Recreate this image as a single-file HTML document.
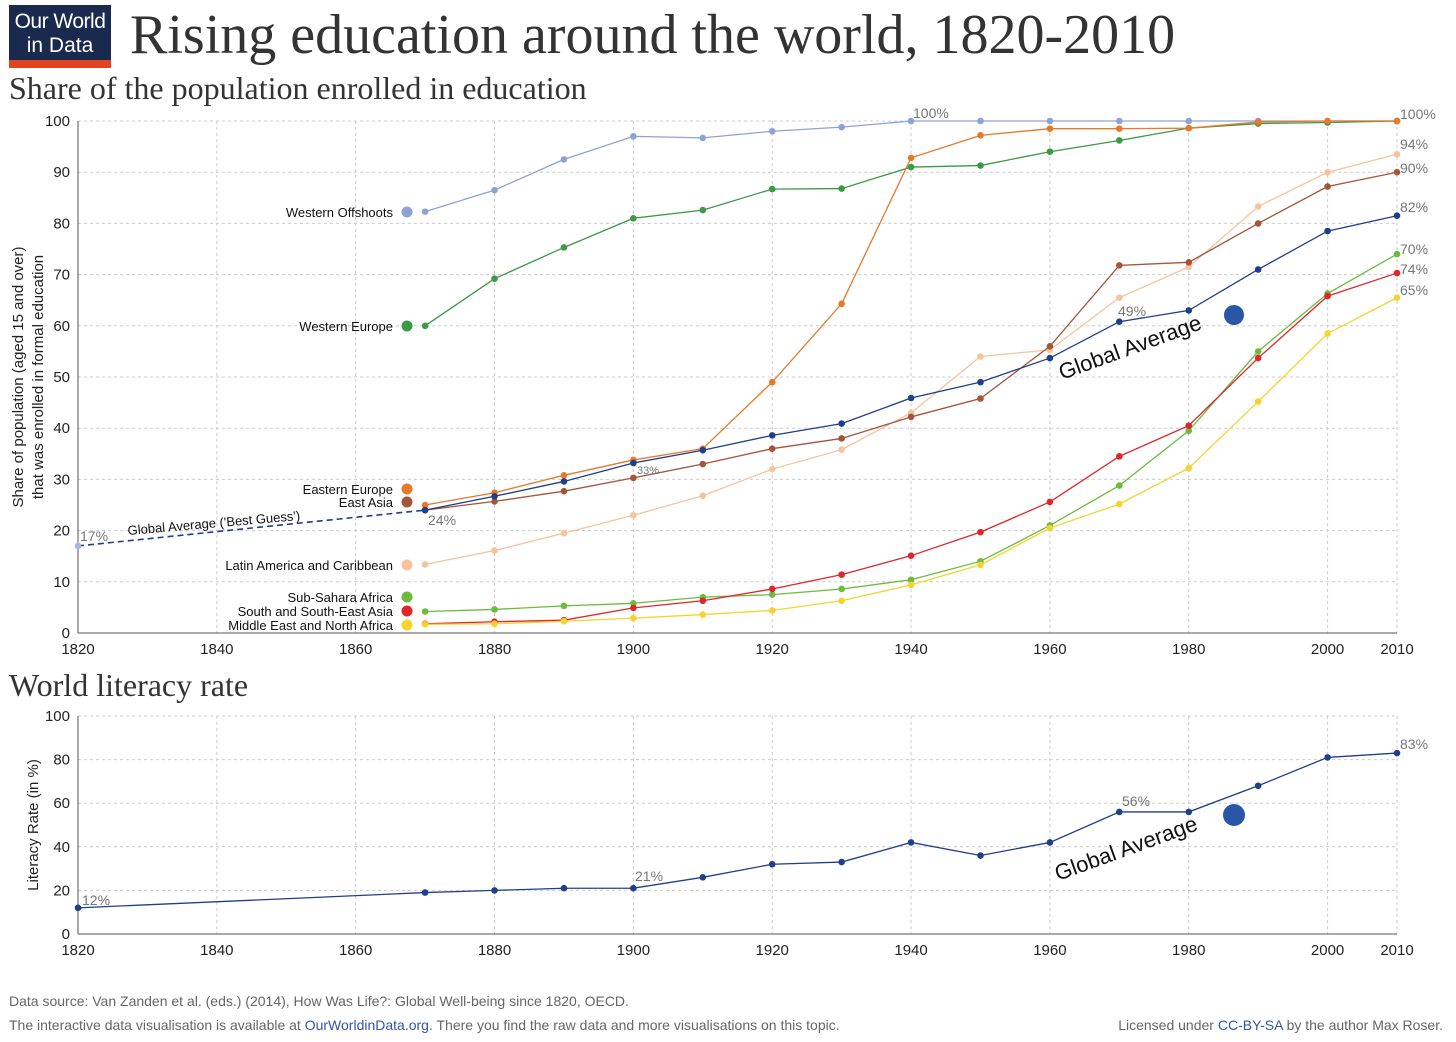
<!DOCTYPE html>
<html><head><meta charset="utf-8">
<style>
body{margin:0;background:#fff;width:1456px;height:1037px;overflow:hidden;font-family:"Liberation Sans",sans-serif;}
svg text{font-family:"Liberation Sans",sans-serif;}
svg text.serif{font-family:"Liberation Serif",serif;}
</style></head>
<body>
<svg id="c" width="1456" height="1037" xmlns="http://www.w3.org/2000/svg">
<g>
<rect x="9" y="5" width="102" height="58" fill="#1a2a4f"/>
<rect x="9" y="60" width="102" height="8" fill="#e0451f"/>
<text x="60" y="28" fill="#fff" font-size="21" text-anchor="middle" letter-spacing="-0.5">Our World</text>
<text x="60" y="52" fill="#fff" font-size="21" text-anchor="middle">in Data</text>
</g>
<text class="serif" x="130" y="53" font-size="56" fill="#333">Rising education around the world, 1820-2010</text>
<text class="serif" x="9" y="99" font-size="32" fill="#333">Share of the population enrolled in education</text>
<text class="serif" x="9" y="696" font-size="32" fill="#333">World literacy rate</text>
<g id="topg"></g>
<g id="botg"></g>
<text x="9" y="1006" font-size="14" fill="#666">Data source: Van Zanden et al. (eds.) (2014), How Was Life?: Global Well-being since 1820, OECD.</text>
<text x="9" y="1030" font-size="14" fill="#666">The interactive data visualisation is available at <tspan fill="#3355aa">OurWorldinData.org</tspan>. There you find the raw data and more visualisations on this topic.</text>
<text x="1443" y="1030" font-size="14" fill="#666" text-anchor="end">Licensed under <tspan fill="#3355aa">CC-BY-SA</tspan> by the author Max Roser.</text>
</svg>
<script>
const years=[1870,1880,1890,1900,1910,1920,1930,1940,1950,1960,1970,1980,1990,2000,2010];
const westernOffshoots=[82.3,86.5,92.5,97,96.7,98,98.8,100,100,100,100,100,100,100,100];
const westernEurope=[60,69.2,75.3,81,82.6,86.7,86.8,91,91.3,94,96.2,98.6,99.5,99.7,100];
const easternEurope=[25,27.4,30.8,33.8,36,49,64.3,92.8,97.2,98.5,98.5,98.6,99.8,100,100];
const eastAsia=[24,25.7,27.7,30.3,33,36,38,42.2,45.8,56,71.8,72.4,80,87.2,90];
const latinAmerica=[13.4,16.1,19.5,23,26.8,32,35.8,43,54,55.3,65.5,71.5,83.3,90,93.5];
const subSahara=[4.2,4.6,5.3,5.8,7,7.5,8.6,10.4,14,21,28.8,39.5,55,66.3,74];
const southAsia=[1.8,2.2,2.5,4.9,6.3,8.6,11.4,15.1,19.7,25.6,34.5,40.5,53.7,65.8,70.3];
const mena=[1.7,1.8,2.3,2.9,3.6,4.4,6.3,9.4,13.3,20.5,25.2,32.2,45.2,58.5,65.5];
const globalAvg=[24,26.7,29.6,33.2,35.7,38.6,40.9,45.9,49,53.7,60.8,63,71,78.5,81.5];
const globalBestGuess=[[1820,17],[1870,24]];
const litYears=[1820,1870,1880,1890,1900,1910,1920,1930,1940,1950,1960,1970,1980,1990,2000,2010];
const literacy=[12,19,20,21,21,26,32,33,42,36,42,56,56,68,81,83];
const xTicks=[1820,1840,1860,1880,1900,1920,1940,1960,1980,2000,2010];
const yTicksTop=[0,10,20,30,40,50,60,70,80,90,100];
const yTicksBot=[0,20,40,60,80,100];

const NS="http://www.w3.org/2000/svg";
function mk(p,t,a){const e=document.createElementNS(NS,t);for(const k in a)e.setAttribute(k,a[k]);p.appendChild(e);return e;}
const X=y=>78+(y-1820)*(1397-78)/190;
const YT=v=>633-v*5.12;
const YB=v=>934-v*2.18;

function axes(g,Y,ticks,name){
  xTicks.forEach(t=>{
    const l=mk(g,'line',{x1:X(t),x2:X(t),y1:Y(100),y2:Y(0),stroke:'#ccc','stroke-dasharray':'3,3'});
    
    
    const tx=mk(g,'text',{x:X(t),y:Y(0)+21,'font-size':15,'text-anchor':'middle',fill:'#222'});
    tx.textContent=t;
    
    
  });
  ticks.forEach(t=>{
    const l=mk(g,'line',{x1:X(1820),x2:X(2010),y1:Y(t),y2:Y(t),stroke:'#ccc','stroke-dasharray':'3,3'});
    
    
    const tx=mk(g,'text',{x:70,y:Y(t)+5,'font-size':15,'text-anchor':'end',fill:'#222'});
    tx.textContent=t;
    
    
  });
  const a=mk(g,'line',{x1:X(1820),x2:X(1820),y1:Y(100),y2:Y(0),stroke:'#555'});
  
  
  const b=mk(g,'line',{x1:X(1820),x2:X(2010),y1:Y(0),y2:Y(0),stroke:'#555'});
  
  
}
function series(g,xs,vals,Y,col,name,r){
  const p=mk(g,'polyline',{points:xs.map((x,i)=>X(x)+','+Y(vals[i])).join(' '),fill:'none',stroke:col,'stroke-width':1.3});
  
  
  xs.forEach((x,i)=>{
    const c=mk(g,'circle',{cx:X(x),cy:Y(vals[i]),r:r||3.3,fill:col});
    
    
  });
}
function txt(g,x,y,s,a,name){const t=mk(g,'text',Object.assign({x:x,y:y},a));t.textContent=s;
  
  return t;}

const topG=document.getElementById('topg');
axes(topG,YT,yTicksTop,'top');
txt(topG,0,0,'Share of population (aged 15 and over)',{'font-size':15,'text-anchor':'middle',transform:'translate(23,377) rotate(-90)',fill:'#222'},'y-axis-title-line1');
txt(topG,0,0,'that was enrolled in formal education',{'font-size':15,'text-anchor':'middle',transform:'translate(43,377) rotate(-90)',fill:'#222'},'y-axis-title-line2');

const S=[
 ['western-offshoots',westernOffshoots,'#8fa2d4','Western Offshoots'],
 ['western-europe',westernEurope,'#3a9a46','Western Europe'],
 ['latin-america',latinAmerica,'#f6c49c','Latin America and Caribbean'],
 ['east-asia',eastAsia,'#a4553a','East Asia'],
 ['eastern-europe',easternEurope,'#e8782a','Eastern Europe'],
 ['sub-sahara',subSahara,'#6cbb3c','Sub-Sahara Africa'],
 ['south-asia',southAsia,'#e0262a','South and South-East Asia'],
 ['mena',mena,'#f6d32e','Middle East and North Africa'],
];
S.forEach(s=>series(topG,years,s[1],YT,s[2],s[0]));
const d=mk(topG,'line',{x1:X(globalBestGuess[0][0]),y1:YT(globalBestGuess[0][1]),x2:X(globalBestGuess[1][0]),y2:YT(globalBestGuess[1][1]),stroke:'#1f3f8a','stroke-width':1.6,'stroke-dasharray':'6,4'});


const c0=mk(topG,'circle',{cx:X(1820),cy:YT(17),r:3.3,fill:'#a8b8e0'});


series(topG,years,globalAvg,YT,'#1f3f8a','global-average');

const legY={'western-offshoots':212,'western-europe':326,'eastern-europe':489,'east-asia':502,'latin-america':565,'sub-sahara':597,'south-asia':611,'mena':625};
S.forEach(s=>{
  const ly=legY[s[0]];
  const c=mk(topG,'circle',{cx:407,cy:ly,r:5.5,fill:s[2]});
  
  
  txt(topG,393,ly+5,s[3],{'font-size':13,'text-anchor':'end',fill:'#111'},s[0]+'-legend-label');
});
txt(topG,0,0,"Global Average ('Best Guess')",{'font-size':13,fill:'#111',transform:'translate(128,535) rotate(-5)'},'best-guess-label');
txt(topG,80,541,'17%',{'font-size':14,fill:'#777'},'value-label');
txt(topG,428,525,'24%',{'font-size':14,fill:'#777'},'value-label');
txt(topG,637,474,'33%',{'font-size':11,fill:'#777'},'value-label');
txt(topG,913,118,'100%',{'font-size':14,fill:'#777'},'value-label');
txt(topG,1118,316,'49%',{'font-size':14,fill:'#777'},'value-label');
[['100%',119],['94%',149],['90%',173],['82%',212],['70%',254],['74%',274],['65%',295]].forEach(v=>txt(topG,1400,v[1],v[0],{'font-size':14,fill:'#777'},'end-value-label'));
txt(topG,0,0,'Global Average',{'font-size':22,fill:'#111',transform:'translate(1062,380) rotate(-20)'},'global-average-annotation');
const gd=mk(topG,'circle',{cx:1234,cy:315,r:10,fill:'#2a56a8'});



const botG=document.getElementById('botg');
axes(botG,YB,yTicksBot,'bottom');
txt(botG,0,0,'Literacy Rate (in %)',{'font-size':15,'text-anchor':'middle',transform:'translate(38,825) rotate(-90)',fill:'#222'},'literacy-y-axis-title');
series(botG,litYears,literacy,YB,'#1f3f8a','literacy');
txt(botG,82,905,'12%',{'font-size':14,fill:'#777'},'value-label');
txt(botG,635,881,'21%',{'font-size':14,fill:'#777'},'value-label');
txt(botG,1122,806,'56%',{'font-size':14,fill:'#777'},'value-label');
txt(botG,1400,749,'83%',{'font-size':14,fill:'#777'},'value-label');
txt(botG,0,0,'Global Average',{'font-size':22,fill:'#111',transform:'translate(1058,881) rotate(-20)'},'literacy-global-average-annotation');
const gd2=mk(botG,'circle',{cx:1234,cy:815,r:11,fill:'#2a56a8'});


</script>
</body></html>
